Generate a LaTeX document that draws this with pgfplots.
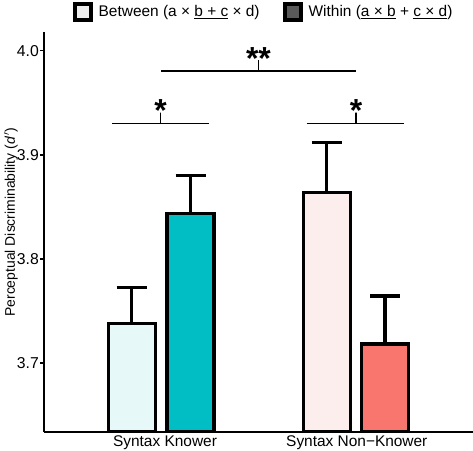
\documentclass[border=0pt]{standalone}
\usepackage{fontspec}
\setmainfont{Liberation Sans}
\usepackage{pgfplots}
\pgfplotsset{compat=1.18}
\definecolor{kbet}{HTML}{E6F8F8}
\definecolor{kwit}{HTML}{00BEC4}
\definecolor{nbet}{HTML}{FDEEEE}
\definecolor{nwit}{HTML}{F8766D}
\definecolor{legA}{HTML}{EEEEEE}
\definecolor{legB}{HTML}{5A5A5A}
\begin{document}
\begin{tikzpicture}
\useasboundingbox (-44bp,-19bp) rectangle (429bp,432bp);
\begin{axis}[
  scale only axis, width=429bp, height=400bp,
  xmin=44, xmax=473, ymin=3.6337, ymax=4.018,
  axis lines*=left,
  axis line style={line width=2bp, black},
  xtick={165,356.8},
  xticklabels={Syntax Knower, Syntax Non{\char"2212}Knower},
  xtick style={draw=none},
  ytick={3.7,3.8,3.9,4.0},
  yticklabels={3.7,3.8,3.9,4.0},
  tick align=outside,
  major tick length=4bp,
  ytick style={line width=1.5bp, black},
  x tick label style={font=\fontsize{15.5}{18}\selectfont, inner sep=0pt},
  y tick label style={font=\fontsize{15.8}{18}\selectfont, inner sep=1bp},
  ylabel={Perceptual Discriminability (\textit{d}\kern0.5pt$'$)},
  ylabel style={at={(axis description cs:-0.0770,0.524)}, anchor=center, font=\fontsize{14}{16}\selectfont},
  legend columns=2,
  legend style={at={(axis description cs:0.0664,1.051)}, anchor=west, draw=none, fill=none,
    inner sep=0pt, font=\fontsize{15.5}{18}\selectfont,
    /tikz/every odd column/.style={column sep=6bp},
    /tikz/every even column/.style={column sep=23bp},
    nodes={inner sep=0pt}},
  legend image code/.code={\draw[#1, line width=4bp] (2bp,-8bp) rectangle (18bp,8bp);},
]
\addlegendimage{fill=legA, draw=black}
\addlegendentry{Between (a × \underline{b + c} × d)}
\addlegendimage{fill=legB, draw=black}
\addlegendentry{Within (\underline{a × b} + \underline{c × d})}

\addplot[forget plot, ybar, bar width=47, bar shift=0pt, fill=kbet, draw=black, line width=3.2bp,
  error bars/.cd, y dir=plus, y explicit,
  error bar style={line width=3.2bp, black},
  error mark options={rotate=90, mark size=15bp, line width=3.2bp, black}]
  coordinates {(131.7,3.7382) +- (0,0.0345)};
\addplot[forget plot, ybar, bar width=47, bar shift=0pt, fill=kwit, draw=black, line width=3.2bp,
  error bars/.cd, y dir=plus, y explicit,
  error bar style={line width=3.2bp, black},
  error mark options={rotate=90, mark size=15bp, line width=3.2bp, black}]
  coordinates {(190.5,3.8438) +- (0,0.0365)};
\addplot[forget plot, ybar, bar width=47, bar shift=0pt, fill=nbet, draw=black, line width=3.2bp,
  error bars/.cd, y dir=plus, y explicit,
  error bar style={line width=3.2bp, black},
  error mark options={rotate=90, mark size=15bp, line width=3.2bp, black}]
  coordinates {(326.7,3.864) +- (0,0.048)};
\addplot[forget plot, ybar, bar width=47, bar shift=0pt, fill=nwit, draw=black, line width=3.2bp,
  error bars/.cd, y dir=plus, y explicit,
  error bar style={line width=3.2bp, black},
  error mark options={rotate=90, mark size=15bp, line width=3.2bp, black}]
  coordinates {(385,3.7183) +- (0,0.046)};

% significance brackets
\addplot[forget plot, black, line width=1.2bp, sharp plot, no marks]
  coordinates {(112,3.9303) (160.7,3.9303) (160.7,3.9405) (160.7,3.9303) (209,3.9303)};
\addplot[forget plot, black, line width=1.2bp, sharp plot, no marks]
  coordinates {(306.7,3.9303) (356,3.9303) (356,3.9405) (356,3.9303) (404.3,3.9303)};
\addplot[forget plot, black, line width=1.2bp, sharp plot, no marks]
  coordinates {(161,3.9805) (258.3,3.9805) (258.3,3.991) (258.3,3.9805) (356,3.9805)};

\node[anchor=base, inner sep=0pt, font=\fontsize{32}{32}\selectfont\bfseries] at (axis cs:160.7,3.9317) {*};
\node[anchor=base, inner sep=0pt, font=\fontsize{32}{32}\selectfont\bfseries] at (axis cs:356,3.9317) {*};
\node[anchor=base, inner sep=0pt, font=\fontsize{32}{32}\selectfont\bfseries] at (axis cs:258.5,3.982) {**};
\end{axis}
\end{tikzpicture}
\end{document}
